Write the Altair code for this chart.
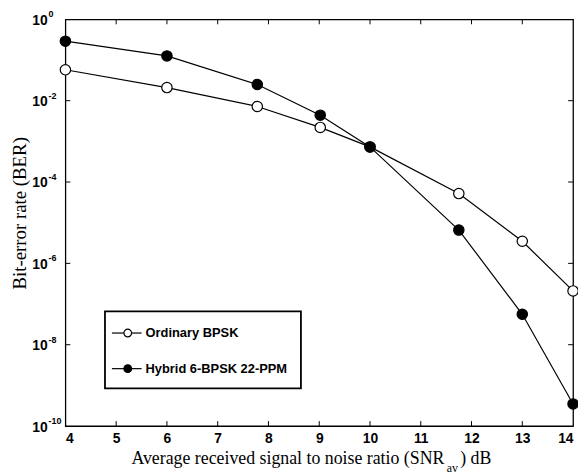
import altair as alt
import pandas as pd

# ---- data ----
snr = [4, 6, 7.78, 9.02, 10, 11.75, 13, 14]
ber_ordinary = [5.75e-2, 2.1e-2, 7.2e-3, 2.2e-3, 7.3e-4, 5.2e-5, 3.5e-6, 2.1e-7]
ber_hybrid = [0.29, 0.126, 2.5e-2, 4.4e-3, 7.3e-4, 6.6e-6, 5.6e-8, 3.5e-10]
series_names = ["Ordinary BPSK", "Hybrid 6-BPSK 22-PPM"]
series_fill = ["white", "black"]
x_ticks = [4, 5, 6, 7, 8, 9, 10, 11, 12, 13, 14]
y_ticks = [1e0, 1e-2, 1e-4, 1e-6, 1e-8, 1e-10]
y_exps = ["0", "-2", "-4", "-6", "-8", "-10"]

W, H = 513, 411
SERIF = "Liberation Serif"
SANS = "Liberation Sans"

xs = alt.Scale(domain=[4, 14], nice=False, zero=False)
ys = alt.Scale(type="log", domain=[1e-10, 1], nice=False)
x_axis = alt.Axis(values=x_ticks, title=None, tickSize=0, labelFont=SANS,
                  labelFontWeight="bold", labelFontSize=14, labelColor="black",
                  labelPadding=6, domain=False, grid=False, format="d")
X = alt.X("snr:Q", scale=xs, axis=x_axis)
Y = alt.Y("ber:Q", scale=ys, axis=None)

df = pd.DataFrame({
    "snr": snr * 2,
    "ber": ber_ordinary + ber_hybrid,
    "series": [series_names[0]] * len(snr) + [series_names[1]] * len(snr),
})

lines = alt.Chart(df).mark_line(color="black", strokeWidth=1.2).encode(
    x=X, y=Y, detail="series:N")
points = alt.Chart(df).mark_point(shape="circle", filled=True, size=110,
                                  strokeWidth=1.2, opacity=1).encode(
    x=X, y=Y,
    fill=alt.Fill("series:N", scale=alt.Scale(domain=series_names, range=series_fill), legend=None),
    stroke=alt.value("black"))

# inward ticks on all four sides
xt = pd.DataFrame({"snr": x_ticks[1:-1]})
yt = pd.DataFrame({"ber": y_ticks[1:-1]})
tick_style = dict(color="black", strokeWidth=1)
xt_bottom = alt.Chart(xt).mark_rule(**tick_style).encode(x=X, y=alt.value(H), y2=alt.value(H - 5))
xt_top = alt.Chart(xt).mark_rule(**tick_style).encode(x=X, y=alt.value(0), y2=alt.value(5))
yt_left = alt.Chart(yt).mark_rule(**tick_style).encode(y=Y, x=alt.value(0), x2=alt.value(5))
yt_right = alt.Chart(yt).mark_rule(**tick_style).encode(y=Y, x=alt.value(W - 5), x2=alt.value(W))

# y tick labels 10^k
ylab = pd.DataFrame({"ber": y_ticks, "exp": y_exps})
ylab_base = alt.Chart(ylab).mark_text(align="right", baseline="middle", font=SANS,
                                      fontWeight="bold", fontSize=14, dy=1.5,
                                      color="black").encode(
    y=Y, x=alt.value(-18), text=alt.value("10"))
ylab_exp = alt.Chart(ylab).mark_text(align="left", baseline="middle", font=SANS,
                                     fontWeight="bold", fontSize=9, dy=-5,
                                     color="black").encode(
    y=Y, x=alt.value(-17), text="exp:N")

one = pd.DataFrame({"a": [0]})

# axis titles
ytitle = alt.Chart(one).mark_text(font=SERIF, fontSize=19, angle=270, align="center",
                                  baseline="middle", color="black").encode(
    x=alt.value(-46), y=alt.value(196), text=alt.value("Bit-error rate (BER)"))
xtitle1 = alt.Chart(one).mark_text(font=SERIF, fontSize=18, align="right",
                                   baseline="middle", color="black").encode(
    x=alt.value(383), y=alt.value(444),
    text=alt.value("Average received signal to noise ratio (SNR"))
xtitle_sub = alt.Chart(one).mark_text(font=SERIF, fontSize=12, align="center",
                                      baseline="middle", color="black").encode(
    x=alt.value(391), y=alt.value(453), text=alt.value("av"))
xtitle2 = alt.Chart(one).mark_text(font=SERIF, fontSize=18, align="left",
                                   baseline="middle", color="black").encode(
    x=alt.value(399), y=alt.value(444), text=alt.value(") dB"))

# legend box
legend_layers = [
    alt.Chart(one).mark_rect(fill="white", stroke="black", strokeWidth=1.8).encode(
        x=alt.value(40), x2=alt.value(238), y=alt.value(295), y2=alt.value(373))
]
for i, (name, fill) in enumerate(zip(series_names, series_fill)):
    ly = 317 + 36 * i
    legend_layers.append(alt.Chart(one).mark_rule(color="black", strokeWidth=1.2).encode(
        x=alt.value(47), x2=alt.value(77), y=alt.value(ly)))
    legend_layers.append(alt.Chart(one).mark_point(shape="circle", filled=True, size=60,
                                                   fill=fill, stroke="black",
                                                   strokeWidth=1.2, opacity=1).encode(
        x=alt.value(63), y=alt.value(ly)))
    legend_layers.append(alt.Chart(one).mark_text(font=SANS, fontWeight="bold", fontSize=13,
                                                  align="left", baseline="middle",
                                                  color="black").encode(
        x=alt.value(81), y=alt.value(ly), text=alt.value(name)))

chart = alt.layer(
    lines, points, xt_bottom, xt_top, yt_left, yt_right,
    ylab_base, ylab_exp, ytitle, xtitle1, xtitle_sub, xtitle2,
    *legend_layers
).properties(
    width=W, height=H,
    autosize=alt.AutoSizeParams(type="none"),
    padding={"left": 58, "top": 9, "right": 5, "bottom": 47},
).configure_view(stroke="black", strokeWidth=1.3)

chart.save("out.html", embed_options={"renderer": "svg", "actions": False})
